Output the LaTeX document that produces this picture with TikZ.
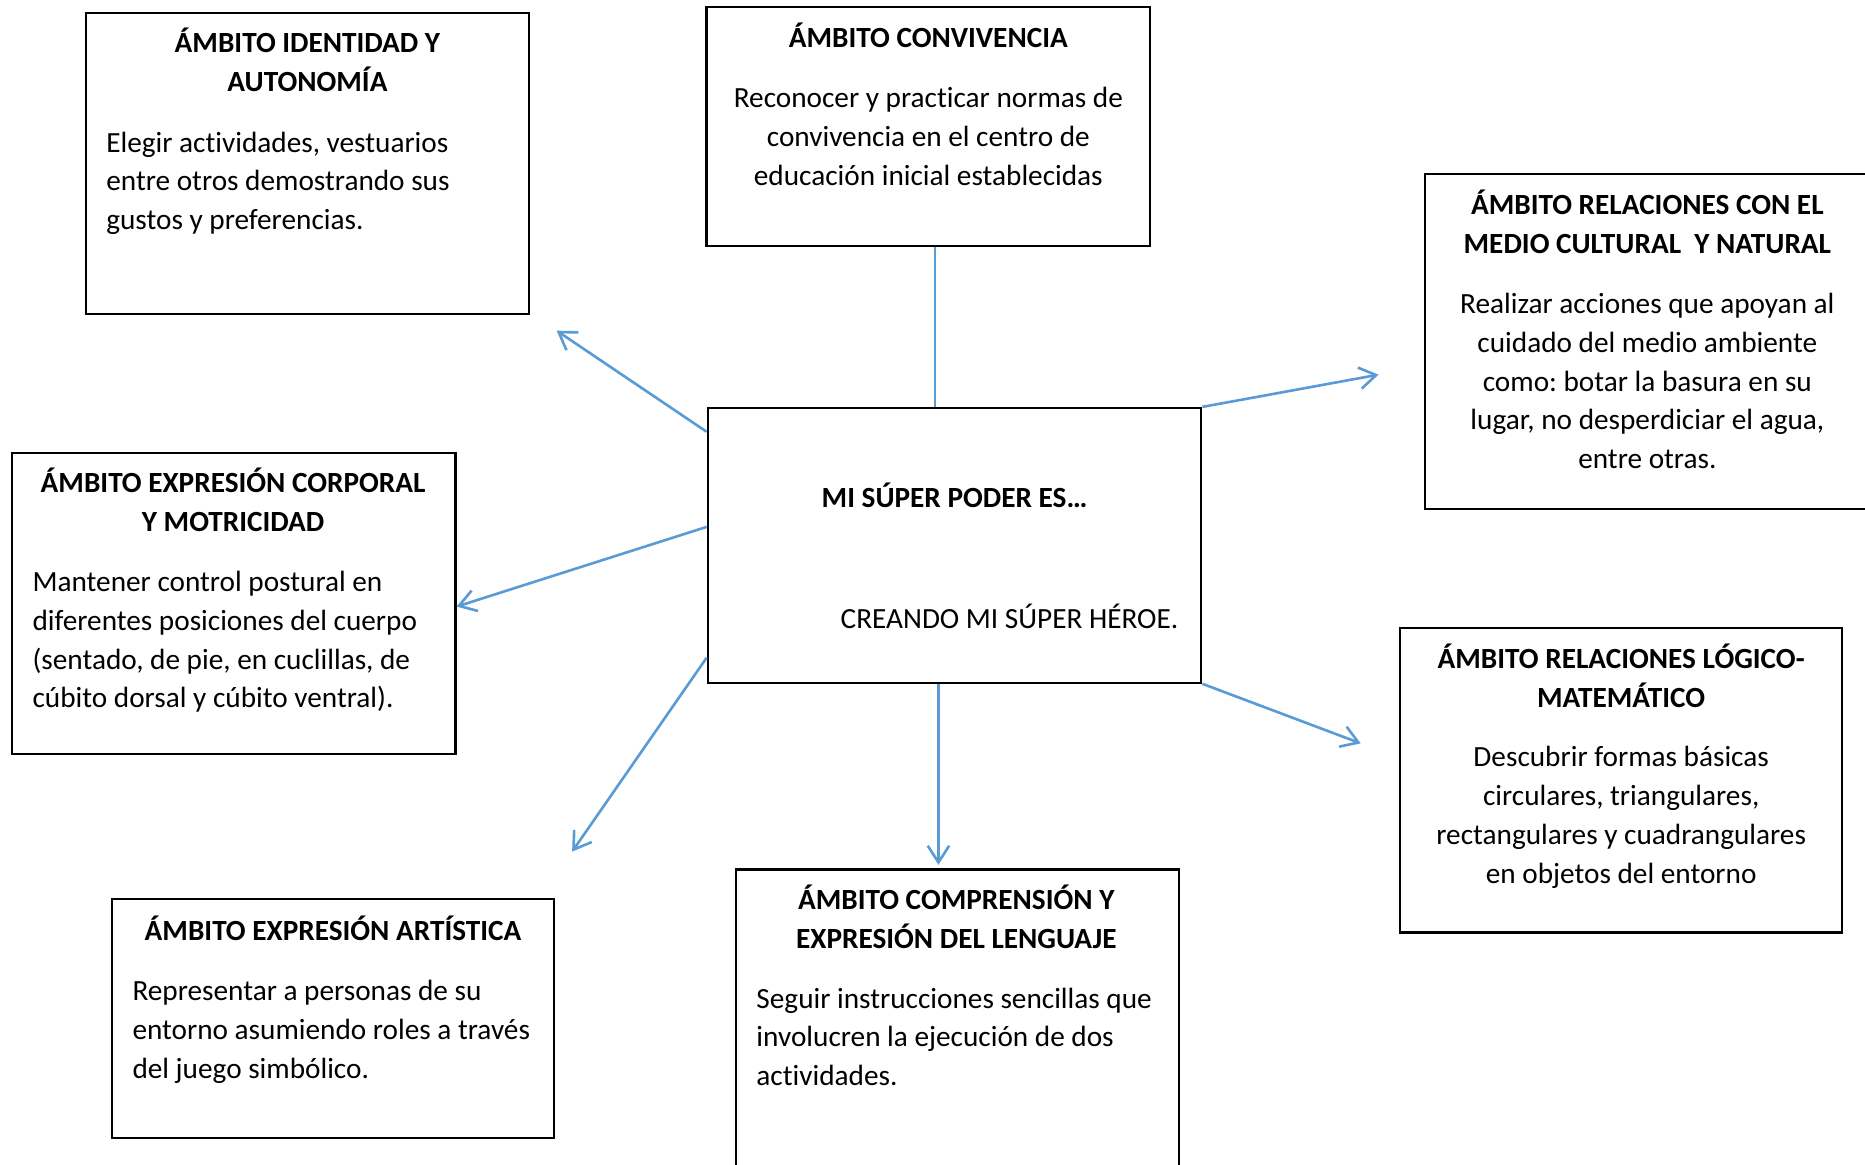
\documentclass[tikz,border=0pt]{standalone}
\usepackage{fontspec}
\setmainfont{Carlito}[Ligatures=NoCommon]
\frenchspacing
\usetikzlibrary{arrows.meta,fit}
\definecolor{linkblue}{RGB}{91,155,213}
\newcommand\tblock[2]{\begin{tabular}[t]{@{}#1@{}}#2\end{tabular}}
\tikzset{
  box/.style={draw=black, line width=0.9pt, inner sep=0pt},
  ttl/.style={font=\fontsize{12.3}{16.3}\selectfont\bfseries, inner sep=0pt, anchor=base, yshift=-0.75pt},
  bdy/.style={font=\fontsize{12.3}{16.3}\selectfont, inner sep=0pt, anchor=base, yshift=-0.75pt},
  bdyl/.style={bdy, anchor=base west},
  link/.style={draw=linkblue, line width=1.1pt},
  arr/.style={link, -{Straight Barb[length=7pt,width=9pt]}},
}
\begin{document}
\begin{tikzpicture}[x=0.5pt,y=-0.5pt]
\useasboundingbox (0,0) rectangle (1568,979);
% boxes
\node[box, fit={(72,11) (445,264)}] (iden) {};
\node[box, fit={(594,6) (967,207)}] (conv) {};
\node[box, fit={(1198,146) (1572,428)}] (medio) {};
\node[box, fit={(10,381) (383,634)}] (corp) {};
\node[box, fit={(595,343) (1010,574)}] (c) {};
\node[box, fit={(94,756) (466,957)}] (art) {};
\node[box, fit={(619,731) (991,990)}] (comp) {};
\node[box, fit={(1177,528) (1549,784)}] (logi) {};
% texts
\node[ttl] (iden-t) at (258.5,43) {\tblock{c}{ÁMBITO IDENTIDAD Y\\AUTONOMÍA}};
\node[bdyl] (iden-b) at (89,126.4) {\tblock{l}{Elegir actividades, vestuarios\\entre otros demostrando sus\\gustos y preferencias.}};
\node[ttl] (conv-t) at (780.5,38.5) {ÁMBITO CONVIVENCIA};
\node[bdy] (conv-b) at (780.5,89) {\tblock{c}{Reconocer y practicar normas de\\convivencia en el centro de\\educación inicial establecidas}};
\node[ttl] (medio-t) at (1385,179) {\tblock{c}{ÁMBITO RELACIONES CON EL\\MEDIO CULTURAL\ \ Y NATURAL}};
\node[bdy] (medio-b) at (1385,262.2) {\tblock{c}{Realizar acciones que apoyan al\\cuidado del medio ambiente\\como: botar la basura en su\\lugar, no desperdiciar el agua,\\entre otras.}};
\node[ttl] (corp-t) at (196,412.6) {\tblock{c}{ÁMBITO EXPRESIÓN CORPORAL\\Y MOTRICIDAD}};
\node[bdyl] (corp-b) at (27,495.8) {\tblock{l}{Mantener control postural en\\diferentes posiciones del cuerpo\\(sentado, de pie, en cuclillas, de\\cúbito dorsal y cúbito ventral).}};
\node[ttl] (c-t) at (802.5,425.5) {MI SÚPER PODER ES…};
\node[bdy, anchor=base east] (c-b) at (991,527) {CREANDO MI SÚPER HÉROE.};
\node[ttl] (art-t) at (280,789) {ÁMBITO EXPRESIÓN ARTÍSTICA};
\node[bdyl] (art-b) at (111,840) {\tblock{l}{Representar a personas de su\\entorno asumiendo roles a través\\del juego simbólico.}};
\node[ttl] (comp-t) at (804,763.5) {\tblock{c}{ÁMBITO COMPRENSIÓN Y\\EXPRESIÓN DEL LENGUAJE}};
\node[bdyl] (comp-b) at (635.6,846) {\tblock{l}{Seguir instrucciones sencillas que\\involucren la ejecución de dos\\actividades.}};
\node[ttl] (logi-t) at (1363,560.5) {\tblock{c}{ÁMBITO RELACIONES LÓGICO-\\MATEMÁTICO}};
\node[bdy] (logi-b) at (1363,643.2) {\tblock{c}{Descubrir formas básicas\\circulares, triangulares,\\rectangulares y cuadrangulares\\en objetos del entorno}};
% free arrow ends
\coordinate (t1) at (468,278);
\coordinate (t2) at (1159,315);
\coordinate (t4) at (481,716);
\coordinate (t5) at (1144,625);
% connectors
\draw[link] (786,0 |- conv.south) -- (786,0 |- c.north);
\draw[arr] (c.west |- 0,363) -- (t1);
\draw[arr] (c.north east) -- (t2);
\draw[arr] (c.west |- 0,443) -- (corp.east |- 0,510);
\draw[arr] (c.west |- 0,553) -- (t4);
\draw[arr, shorten >=1.5pt] (789,0 |- c.south) -- (789,0 |- comp.north);
\draw[arr] (c.south east) -- (t5);
\end{tikzpicture}
\end{document}
